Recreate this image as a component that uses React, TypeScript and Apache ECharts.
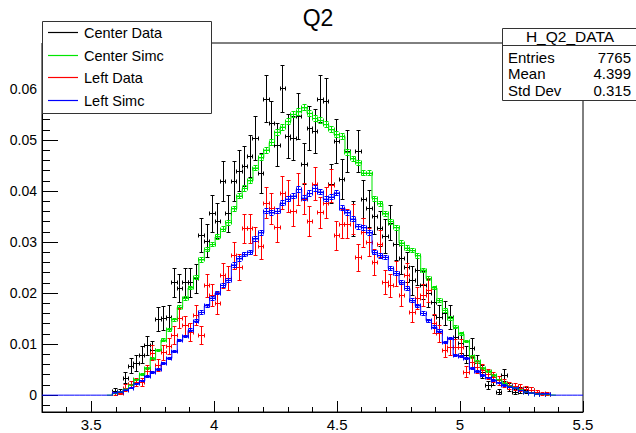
import React, { useEffect, useRef } from "react";
import * as echarts from "echarts";

// ---- histogram binning (ROOT TH1: 100 bins from 3.3 to 5.5) ----
const BIN_LO = 3.3;
const BIN_HI = 5.5;
const NBINS = 100;
const BIN_W = (BIN_HI - BIN_LO) / NBINS;
const FIRST_BIN = 13; // first non-empty bin; arrays below start here

// ---- bin contents ----
const centerData = [
  0.0008, 0.0006, 0.0033, 0.0057, 0.0062, 0.0078, 0.0097, 0.0088, 0.0148, 0.015,
  0.0152, 0.022, 0.0209, 0.022, 0.022, 0.0228, 0.0312, 0.0302, 0.0355, 0.0341,
  0.0419, 0.0355, 0.0419, 0.0439, 0.0448, 0.0468, 0.0503, 0.0435, 0.058, 0.0532,
  0.049, 0.06, 0.0507, 0.0503, 0.0546, 0.0452, 0.0522, 0.0517, 0.058, 0.0575,
  0.0413, 0.0497, 0.0423, 0.0477, 0.0345, 0.0477, 0.0384, 0.0365, 0.035, 0.0326,
  0.031, 0.0337, 0.0296, 0.0267, 0.025, 0.0224, 0.0244, 0.0215, 0.0199, 0.0181,
  0.0152, 0.016, 0.0152, 0.0113, 0.0101, 0.0078, 0.0092, 0.0062, 0.0045, 0.0019,
  0.0029, 0.0006, 0.0039, 0.0015, 0.0006, 0.001, 0.001, 0.001, 0, 0, 0,
];
const centerSimc = [
  0.0003, 0.0006, 0.0012, 0.002, 0.003, 0.004, 0.0053, 0.0072, 0.0088, 0.0108,
  0.0128, 0.0148, 0.0172, 0.019, 0.021, 0.023, 0.0265, 0.0285, 0.0295, 0.031,
  0.0325, 0.0338, 0.0365, 0.039, 0.0405, 0.042, 0.0445, 0.0465, 0.048, 0.0495,
  0.0515, 0.0525, 0.0536, 0.055, 0.0555, 0.0563, 0.0552, 0.0542, 0.0538, 0.053,
  0.052, 0.051, 0.0507, 0.0475, 0.0463, 0.0455, 0.0435, 0.0435, 0.0385, 0.0375,
  0.0355, 0.034, 0.0328, 0.0298, 0.0288, 0.0283, 0.0273, 0.0245, 0.0228, 0.021,
  0.0185, 0.0166, 0.015, 0.0133, 0.012, 0.0105, 0.0075, 0.0065, 0.0053, 0.0046,
  0.0039, 0.003, 0.0023, 0.0018, 0.0014, 0.001, 0.0006, 0.0004, 0.0002, 0.0001, 0.00005,
];
const leftData = [
  0.0003, 0.0004, 0.0014, 0.002, 0.0025, 0.0025, 0.0047, 0.0082, 0.0058, 0.0083,
  0.0096, 0.0117, 0.015, 0.0136, 0.0123, 0.0156, 0.0117, 0.0214, 0.0195, 0.018,
  0.0234, 0.0228, 0.0273, 0.025, 0.0326, 0.0326, 0.0302, 0.0292, 0.0376, 0.0365,
  0.0328, 0.0396, 0.039, 0.036, 0.0403, 0.0384, 0.0341, 0.0413, 0.0357, 0.0376,
  0.041, 0.0312, 0.0335, 0.0335, 0.0345, 0.0269, 0.0318, 0.03, 0.026, 0.0296,
  0.022, 0.0214, 0.0238, 0.0195, 0.0234, 0.0162, 0.0189, 0.0195, 0.0205, 0.014,
  0.012, 0.0088, 0.0094, 0.0094, 0.0094, 0.0045, 0.0064, 0.0055, 0.0049, 0.004,
  0.0035, 0.0028, 0.0023, 0.0018, 0.0016, 0.0014, 0.0012, 0.001, 0.0005, 0.0003, 0.0002,
];
const leftSimc = [
  0.0004, 0.0006, 0.001, 0.0014, 0.0022, 0.0028, 0.0036, 0.0045, 0.005, 0.0062,
  0.0072, 0.0085, 0.0107, 0.0115, 0.0127, 0.0145, 0.0162, 0.0175, 0.019, 0.02,
  0.0215, 0.0225, 0.0255, 0.0267, 0.0275, 0.028, 0.0306, 0.0318, 0.036, 0.0357,
  0.036, 0.0376, 0.0384, 0.039, 0.0403, 0.0386, 0.0395, 0.0405, 0.0398, 0.0384,
  0.0388, 0.0396, 0.0366, 0.0357, 0.0345, 0.033, 0.0328, 0.0318, 0.0279, 0.0273,
  0.027, 0.0248, 0.0238, 0.022, 0.0209, 0.0185, 0.0175, 0.016, 0.0146, 0.0133,
  0.0125, 0.0103, 0.0111, 0.0078, 0.0076, 0.0072, 0.0053, 0.0046, 0.0039, 0.0034,
  0.0029, 0.0024, 0.0019, 0.0016, 0.0014, 0.0009, 0.0006, 0.0004, 0.0002, 0.0002, 0.0002,
];

// Poisson-like statistical error scale per histogram (err = sqrt(content / k))
const CENTER_DATA_K = 2800;
const LEFT_DATA_K = 4000;
const SIMC_K = 150000;

// ---- axes / text ----
const X_MAJOR = [3.5, 4, 4.5, 5, 5.5];
const X_MINOR = [3.4, 3.6, 3.7, 3.8, 3.9, 4.1, 4.2, 4.3, 4.4, 4.6, 4.7, 4.8, 4.9, 5.1, 5.2, 5.3, 5.4];
const Y_MAJOR = [0, 0.01, 0.02, 0.03, 0.04, 0.05, 0.06];
const Y_MINOR = [
  -0.002, 0.002, 0.004, 0.006, 0.008, 0.012, 0.014, 0.016, 0.018, 0.022, 0.024, 0.026, 0.028,
  0.032, 0.034, 0.036, 0.038, 0.042, 0.044, 0.046, 0.048, 0.052, 0.054, 0.056, 0.058, 0.062,
  0.064, 0.066, 0.068,
];
const Y_MIN = -0.0033;
const Y_MAX = 0.069;

const TITLE = "Q2";
const LEGEND_NAMES = ["Center Data", "Center Simc", "Left Data", "Left Simc"];
const COLORS = ["#000000", "#00e600", "#ff0000", "#0000ff"];
const STATS_TITLE = "H_Q2_DATA";
const STATS_LABELS = ["Entries", "Mean", "Std Dev"];
const STATS_VALUES = ["7765", "4.399", "0.315"];

const FONT = "'Liberation Sans', Arial, Helvetica, sans-serif";

function binCenter(i: number) {
  return BIN_LO + BIN_W * (i + 0.5);
}

function errorItems(vals: number[], k: number) {
  return vals
    .map((v, j) => [binCenter(FIRST_BIN + j), v, Math.sqrt(v / k)])
    .filter((d) => d[1] > 0);
}

// histogram outline: points at bin low edges (+ final upper edge).
// fullRange: draw the empty bins too (the last-drawn histogram shows the zero line).
function outlinePoints(vals: number[], fullRange: boolean) {
  const full: number[] = new Array(NBINS).fill(0);
  vals.forEach((v, j) => (full[FIRST_BIN + j] = v));
  const from = fullRange ? 0 : FIRST_BIN - 1;
  const to = fullRange ? NBINS : FIRST_BIN + vals.length + 1;
  const pts: number[][] = [];
  for (let i = from; i < to; i++) pts.push([BIN_LO + BIN_W * i, full[i]]);
  pts.push([BIN_LO + BIN_W * to, full[to - 1]]);
  return pts;
}

const snap = (p: number) => Math.floor(p) + 0.5;

function makeErrorRender(color: string) {
  const CAP = 2;
  return (params: any, api: any) => {
    const x = api.value(0);
    const v = api.value(1);
    const e = api.value(2);
    const style = { stroke: color, lineWidth: 1, fill: null };
    const l = api.coord([x - BIN_W / 2, v]);
    const r = api.coord([x + BIN_W / 2, v]);
    const t = api.coord([x, v + e]);
    const b = api.coord([x, v - e]);
    const xl = snap(l[0]);
    const xr = snap(r[0]);
    const yv = snap(l[1]);
    const xc = snap(t[0]);
    const yt = snap(t[1]);
    const yb = snap(b[1]);
    const children: any[] = [];
    const seg = (x1: number, y1: number, x2: number, y2: number) =>
      children.push({ type: "line", shape: { x1, y1, x2, y2 }, style });
    seg(xl, yv, xr, yv);
    seg(xl, yv - CAP, xl, yv + CAP);
    seg(xr, yv - CAP, xr, yv + CAP);
    seg(xc, yt, xc, yb);
    seg(xc - CAP, yt, xc + CAP, yt);
    seg(xc - CAP, yb, xc + CAP, yb);
    return { type: "group", children };
  };
}

export default function App() {
  const ref = useRef<HTMLDivElement>(null);
  useEffect(() => {
    if (!ref.current) return;
    const chart = echarts.init(ref.current, undefined, { renderer: "svg" });
    const axisLineStyle = { color: "#000", width: 1 };

    const errSeries = (name: string, color: string, vals: number[], k: number) => ({
      type: "custom",
      name,
      xAxisIndex: 0,
      yAxisIndex: 0,
      clip: true,
      renderItem: makeErrorRender(color),
      encode: { x: 0, y: 1 },
      data: errorItems(vals, k),
    });
    const outlineSeries = (name: string, color: string, vals: number[], fullRange: boolean) => ({
      type: "line",
      name,
      xAxisIndex: 0,
      yAxisIndex: 0,
      step: "end",
      showSymbol: false,
      symbol: "none",
      clip: true,
      lineStyle: { color, width: 1 },
      data: outlinePoints(vals, fullRange),
    });

    const series = [
      errSeries(LEGEND_NAMES[0], COLORS[0], centerData, CENTER_DATA_K),
      outlineSeries(LEGEND_NAMES[1], COLORS[1], centerSimc, false),
      errSeries(LEGEND_NAMES[1], COLORS[1], centerSimc, SIMC_K),
      errSeries(LEGEND_NAMES[2], COLORS[2], leftData, LEFT_DATA_K),
      outlineSeries(LEGEND_NAMES[3], COLORS[3], leftSimc, true),
      errSeries(LEGEND_NAMES[3], COLORS[3], leftSimc, SIMC_K),
    ];

    const legendRows = [32.5, 55.5, 77.5, 100.5];
    const graphic: any[] = [
      {
        type: "rect",
        z: 100,
        shape: { x: 42.5, y: 21.5, width: 169, height: 92 },
        style: { fill: "#fff", stroke: "#333", lineWidth: 1 },
      },
      ...LEGEND_NAMES.flatMap((n, i) => [
        {
          type: "line",
          z: 101,
          shape: { x1: 48, y1: legendRows[i], x2: 78, y2: legendRows[i] },
          style: { stroke: COLORS[i], lineWidth: 1.2 },
        },
        {
          type: "text",
          z: 101,
          x: 84,
          y: legendRows[i],
          style: { text: n, fill: "#000", font: `14.5px ${FONT}`, textVerticalAlign: "middle" },
        },
      ]),
      {
        type: "rect",
        z: 100,
        shape: { x: 502.5, y: 28.5, width: 140, height: 72 },
        style: { fill: "#fff", stroke: "#333", lineWidth: 1 },
      },
      {
        type: "line",
        z: 101,
        shape: { x1: 502.5, y1: 45.5, x2: 640, y2: 45.5 },
        style: { stroke: "#333", lineWidth: 1 },
      },
      {
        type: "text",
        z: 101,
        x: 570,
        y: 36,
        style: { text: STATS_TITLE, fill: "#000", font: `15.5px ${FONT}`, textAlign: "center", textVerticalAlign: "middle" },
      },
      ...STATS_LABELS.flatMap((lab, i) => [
        {
          type: "text",
          z: 101,
          x: 508,
          y: 57 + i * 16.5,
          style: { text: lab, fill: "#000", font: `15px ${FONT}`, textVerticalAlign: "middle" },
        },
        {
          type: "text",
          z: 101,
          x: 631,
          y: 57 + i * 16.5,
          style: { text: STATS_VALUES[i], fill: "#000", font: `15px ${FONT}`, textAlign: "right", textVerticalAlign: "middle" },
        },
      ]),
    ];

    chart.setOption({
      animation: false,
      backgroundColor: "#fff",
      title: {
        text: TITLE,
        left: "center",
        top: 1,
        textStyle: { fontSize: 23, fontWeight: "normal", color: "#000", fontFamily: FONT },
      },
      grid: {
        left: 42,
        right: 53,
        top: 43,
        bottom: 21,
        show: true,
        borderColor: "#000",
        borderWidth: 1,
        backgroundColor: "transparent",
      },
      xAxis: [
        {
          type: "value",
          min: BIN_LO,
          max: BIN_HI,
          position: "bottom",
          axisLine: { show: true, onZero: false, lineStyle: axisLineStyle },
          axisTick: { show: true, inside: true, length: 11, customValues: X_MAJOR, lineStyle: axisLineStyle },
          axisLabel: { customValues: X_MAJOR, color: "#000", fontSize: 15, fontFamily: FONT, margin: 5 },
          splitLine: { show: false },
        },
        {
          type: "value",
          min: BIN_LO,
          max: BIN_HI,
          position: "bottom",
          axisLine: { show: false, onZero: false },
          axisTick: { show: true, inside: true, length: 5, customValues: X_MINOR, lineStyle: axisLineStyle },
          axisLabel: { show: false },
          splitLine: { show: false },
        },
      ],
      yAxis: [
        {
          type: "value",
          min: Y_MIN,
          max: Y_MAX,
          position: "left",
          axisLine: { show: true, onZero: false, lineStyle: axisLineStyle },
          axisTick: { show: true, inside: true, length: 16, customValues: Y_MAJOR, lineStyle: axisLineStyle },
          axisLabel: { customValues: Y_MAJOR, color: "#000", fontSize: 14, fontFamily: FONT, margin: 5 },
          splitLine: { show: false },
        },
        {
          type: "value",
          min: Y_MIN,
          max: Y_MAX,
          position: "left",
          axisLine: { show: false, onZero: false },
          axisTick: { show: true, inside: true, length: 8, customValues: Y_MINOR, lineStyle: axisLineStyle },
          axisLabel: { show: false },
          splitLine: { show: false },
        },
      ],
      series,
      graphic,
    });
    return () => chart.dispose();
  }, []);
  return (
    <div
      ref={ref}
      style={{ position: "fixed", left: 0, top: 0, width: 636, height: 433, background: "#fff" }}
    />
  );
}
